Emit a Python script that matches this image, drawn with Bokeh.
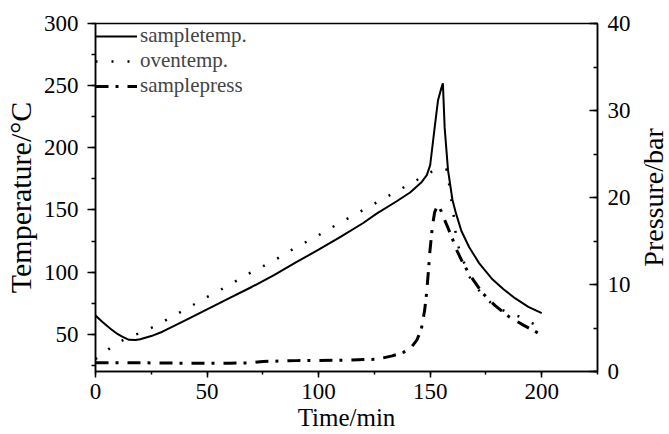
from bokeh.plotting import figure
from bokeh.layouts import row
from bokeh.models import Range1d, LinearAxis, SingleIntervalTicker, FixedTicker, Legend, LegendItem
from bokeh.embed import file_html
from bokeh.resources import INLINE

# ---- data ----
sample_t = [0, 3, 7, 10, 12, 15, 18, 20, 25, 30, 40, 50, 60, 70, 80, 90, 100, 110, 120, 126,
            135, 141, 146, 148.5, 150, 150.6, 152, 153.5, 155, 155.7, 156.5, 158, 160, 161.6,
            164, 167.5, 172, 178, 183, 188, 194, 200]
sample_temp = [65, 60, 54, 50, 48, 45.5, 45.3, 46, 48.5, 52, 61, 70, 79, 88, 97.5, 108, 118,
               128.5, 139.5, 147, 157, 164, 172, 178, 186, 195, 216, 238, 248, 251.8, 216, 182,
               158, 147, 133, 120, 107, 94, 86, 79, 72, 67]

oven_t = [0, 4, 7.4, 14, 20.7, 27.3, 34, 40.9, 47.7, 54.6, 61.3, 68.2, 74.8, 81.6, 88.4, 95.2,
          101.9, 108.5, 115, 121, 128.4, 135.8, 142.5, 149, 152.5, 156, 158, 158.4, 159, 160.2,
          160.9, 161.6, 163.1, 167.5, 172, 178, 184, 189.7, 195.6, 200]
oven_temp = [30, 35, 40.3, 47, 51.5, 57, 63.8, 70.5, 77.7, 84.3, 91, 98.3, 104.4, 111, 118.3, 125,
             131.6, 138.6, 145, 151, 158.4, 165.8, 172.5, 179, 182.7, 183.5, 182, 172.5, 162, 151,
             139.6, 128.4, 117.8, 96.4, 85, 73.7, 68, 64.3, 59, 55]

press_t = [0, 20, 40, 60, 70, 75, 90, 110, 126, 133, 138, 141, 144, 146, 147.5, 148.4, 149.2,
           149.8, 151, 152, 153, 153.8, 155, 156.5, 158, 160.2, 162, 164.6, 168, 173.5, 179,
           185.3, 192, 200]
press = [1.0, 1.0, 0.95, 0.95, 1.0, 1.15, 1.25, 1.3, 1.4, 1.8, 2.2, 2.6, 3.6, 4.8, 7, 9, 11.5,
         13.6, 16.7, 18.3, 18.9, 19, 18.4, 17.4, 16.5, 15.1, 13.9, 12.5, 11, 9, 7.6, 6.3, 5.3, 4.2]

x_label = "Time/min"
y_label = "Temperature/°C"
y2_label = "Pressure/bar"
names = ["sampletemp.", "oventemp.", "samplepress"]

FONT = "Liberation Serif"
H, BT, BB = 434, 23, 63

p = figure(width=633, height=H, output_backend="svg", toolbar_location=None,
           x_range=Range1d(0, 225), y_range=Range1d(20, 300),
           min_border_left=95, min_border_right=34, min_border_top=BT, min_border_bottom=BB)
p.extra_y_ranges = {"press": Range1d(0, 40)}
p.grid.visible = False
p.outline_line_color = "black"
p.outline_line_width = 1.5
p.background_fill_color = "white"
p.border_fill_color = "white"

r1 = p.line(sample_t, sample_temp, line_color="black", line_width=2)
r2 = p.line(oven_t, oven_temp, line_color="black", line_width=2.5, line_dash="2 14")
r3 = p.line(press_t, press, line_color="black", line_width=3, line_dash="13 7 3 9",
            y_range_name="press")

xa = p.xaxis[0]
xa.ticker = SingleIntervalTicker(interval=50, num_minor_ticks=2)
ya = p.yaxis[0]
ya.ticker = SingleIntervalTicker(interval=50, num_minor_ticks=2)

ra = LinearAxis(y_range_name="press", ticker=SingleIntervalTicker(interval=10, num_minor_ticks=2))
p.add_layout(ra, "right")

for ax in (xa, ya, ra):
    ax.axis_line_color = "black"
    ax.axis_line_width = 1.5
    ax.major_tick_line_width = 1.5
    ax.minor_tick_line_width = 1.5
    ax.major_label_text_font = FONT
    ax.major_label_text_font_size = "23px"
    ax.major_label_text_color = "black"
    ax.axis_label_text_font = FONT
    ax.axis_label_text_font_style = "normal"
    ax.axis_label_text_color = "black"

xa.axis_label = x_label
xa.axis_label_text_font_size = "25px"
xa.major_tick_out = 6
xa.major_tick_in = 0
xa.minor_tick_out = 3
xa.minor_tick_in = 0
xa.major_label_standoff = 6
xa.axis_label_standoff = 2

ya.axis_label = y_label
ya.axis_label_text_font_size = "30px"
ya.major_tick_out = 8
ya.major_tick_in = 0
ya.minor_tick_out = 4
ya.minor_tick_in = 0
ya.major_label_standoff = 9
ya.axis_label_standoff = 4

ra.major_tick_out = 0
ra.major_tick_in = 8
ra.minor_tick_out = 0
ra.minor_tick_in = 4
ra.major_label_standoff = 10

legend = Legend(items=[LegendItem(label=names[0], renderers=[r1]),
                       LegendItem(label=names[1], renderers=[r2]),
                       LegendItem(label=names[2], renderers=[r3])],
                location="top_left")
legend.margin = 0
legend.padding = 2
legend.spacing = 0
legend.border_line_color = None
legend.background_fill_alpha = 0
legend.glyph_width = 42
legend.glyph_height = 18
legend.label_height = 18
legend.label_standoff = 3
legend.label_text_font = FONT
legend.label_text_font_size = "21px"
legend.label_text_baseline = "middle"
p.add_layout(legend)

# narrow companion figure carrying the right-hand title, reading bottom-to-top
p2 = figure(width=36, height=H, output_backend="svg", toolbar_location=None,
            x_range=Range1d(0, 1), y_range=Range1d(0, 40),
            min_border_left=35, min_border_right=0, min_border_top=BT, min_border_bottom=BB)
p2.line([], [])
p2.grid.visible = False
p2.xaxis.visible = False
p2.outline_line_color = None
p2.background_fill_color = None
p2.border_fill_color = "white"
ly = p2.yaxis[0]
ly.ticker = FixedTicker(ticks=[])
ly.axis_line_color = None
ly.major_tick_line_color = None
ly.minor_tick_line_color = None
ly.major_label_text_font_size = "0px"
ly.axis_label = y2_label
ly.axis_label_text_font = FONT
ly.axis_label_text_font_size = "28px"
ly.axis_label_text_font_style = "normal"
ly.axis_label_text_color = "black"
ly.axis_label_standoff = 0

layout = row(p, p2, spacing=0)

open("out.html", "w").write(file_html(layout, INLINE))
